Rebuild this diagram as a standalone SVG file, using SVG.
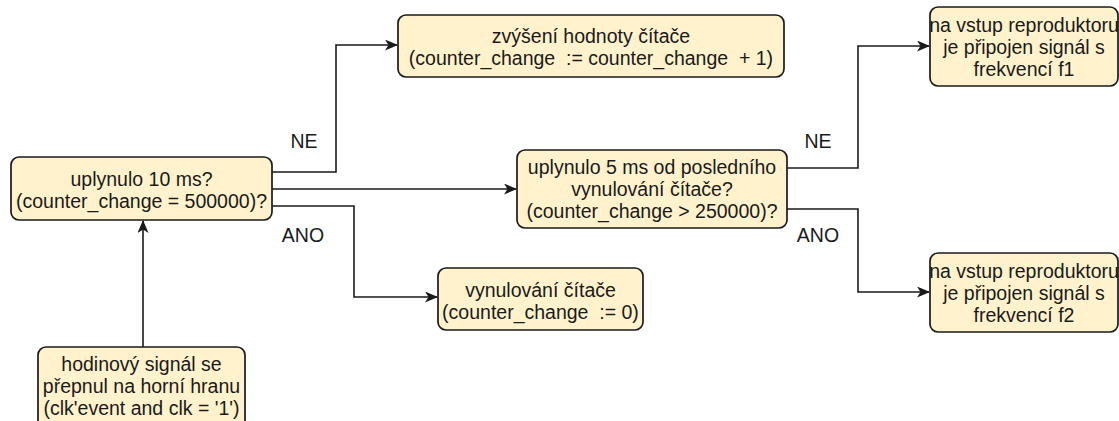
<svg xmlns="http://www.w3.org/2000/svg" width="1119" height="421" viewBox="0 0 1119 421">
  <style>
    .box { fill: #fff2cc; stroke: #1a1a1a; stroke-width: 1.7; }
    .t { font-family: "Liberation Sans", Arial, sans-serif; font-size: 19.5px; fill: #1a1a1a; text-anchor: middle; white-space: pre; }
    .lbl { font-family: "Liberation Sans", Arial, sans-serif; font-size: 19.5px; fill: #1a1a1a; text-anchor: middle; }
    .edge { fill: none; stroke: #1a1a1a; stroke-width: 1.6; marker-end: url(#arrow); }
  </style>
  <defs>
    <marker id="arrow" viewBox="0 0 13 11" refX="12" refY="5.5" markerWidth="13" markerHeight="11" markerUnits="userSpaceOnUse" orient="auto">
      <path d="M0,0 L13,5.5 L0,11 L3.5,5.5 Z" fill="#1a1a1a"/>
    </marker>
  </defs>
  <rect width="1119" height="421" fill="#ffffff"/>

  <g id="connectors">
    <path class="edge" d="M143,347 L143,221"/>
    <path class="edge" d="M272,172 L336,172 L336,45 L397,45"/>
    <path class="edge" d="M272,189 L516,189"/>
    <path class="edge" d="M272,206 L354,206 L354,297 L437,297"/>
    <path class="edge" d="M787,168 L858,168 L858,46 L929,46"/>
    <path class="edge" d="M787,209 L858,209 L858,292 L929,292"/>
    <text class="lbl" x="304" y="148">NE</text>
    <text class="lbl" x="303" y="242">ANO</text>
    <text class="lbl" x="818" y="148">NE</text>
    <text class="lbl" x="818" y="242">ANO</text>
  </g>

  <g id="node-check10ms">
    <rect class="box" x="11" y="157" width="261" height="63" rx="8"/>
    <text class="t" x="141.5" y="186">uplynulo 10 ms?</text>
    <text class="t" x="141.5" y="208">(counter_change = 500000)?</text>
  </g>

  <g id="node-increment">
    <rect class="box" x="398" y="15" width="386" height="62" rx="8"/>
    <text class="t" x="591" y="43">zvýšení hodnoty čítače</text>
    <text class="t" x="591" y="65">(counter_change  := counter_change  + 1)</text>
  </g>

  <g id="node-check5ms">
    <rect class="box" x="517" y="150" width="270" height="78" rx="8"/>
    <text class="t" x="652" y="174">uplynulo 5 ms od posledního</text>
    <text class="t" x="652" y="196">vynulování čítače?</text>
    <text class="t" x="652" y="218">(counter_change &gt; 250000)?</text>
  </g>

  <g id="node-f1">
    <rect class="box" x="930" y="7" width="188" height="79" rx="8"/>
    <text class="t" x="1024" y="32">na vstup reproduktoru</text>
    <text class="t" x="1024" y="54">je připojen signál s</text>
    <text class="t" x="1024" y="76">frekvencí f1</text>
  </g>

  <g id="node-f2">
    <rect class="box" x="930" y="253" width="188" height="79" rx="8"/>
    <text class="t" x="1024" y="278">na vstup reproduktoru</text>
    <text class="t" x="1024" y="300">je připojen signál s</text>
    <text class="t" x="1024" y="322">frekvencí f2</text>
  </g>

  <g id="node-reset">
    <rect class="box" x="438" y="268" width="205" height="62" rx="8"/>
    <text class="t" x="540.5" y="297">vynulování čítače</text>
    <text class="t" x="540.5" y="319">(counter_change  := 0)</text>
  </g>

  <g id="node-clock">
    <rect class="box" x="38" y="347" width="207" height="82" rx="8"/>
    <text class="t" x="141.5" y="371">hodinový signál se</text>
    <text class="t" x="141.5" y="393">přepnul na horní hranu</text>
    <text class="t" x="141.5" y="415">(clk'event and clk = '1')</text>
  </g>
</svg>
